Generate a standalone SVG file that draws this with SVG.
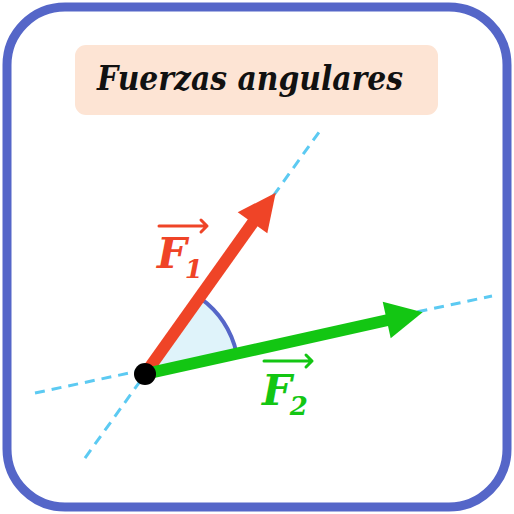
<svg xmlns="http://www.w3.org/2000/svg" width="514" height="514" viewBox="0 0 514 514">
<style>
.dash{stroke:#5ccaf2;stroke-width:3;stroke-dasharray:10 7;fill:none}
.lbl{font-family:"DejaVu Serif",serif;font-weight:bold;font-style:italic}
.vec{fill:none;stroke-width:3;stroke-linecap:round;stroke-linejoin:round}
</style>
<rect x="7" y="7" width="500" height="500" rx="58" fill="#fff" stroke="#5566c8" stroke-width="9"/>
<g id="title">
<rect x="75" y="45" width="363" height="70" rx="11" fill="#fde4d4"/>
<text x="250" y="90" text-anchor="middle" class="lbl" font-size="34" textLength="306" lengthAdjust="spacingAndGlyphs" fill="#111">Fuerzas angulares</text>
</g>
<g id="connectors">
<line class="dash" x1="85" y1="458" x2="322" y2="128"/>
<line class="dash" x1="35" y1="393" x2="492" y2="296"/>
</g>
<g id="angle">
<path d="M145 374 L200 297.8 A94 94 0 0 1 236.7 353.5 Z" fill="#dff3fa"/>
<path d="M200 297.8 A94 94 0 0 1 236.7 353.5" fill="none" stroke="#5566c8" stroke-width="4"/>
</g>
<g id="F1">
<line x1="145" y1="374" x2="254" y2="221" stroke="#ef4427" stroke-width="12"/>
<polygon points="275.7,192.7 237.7,212.3 267.3,233.3" fill="#ef4427"/>
<text x="157" y="268" class="lbl" font-size="42" fill="#ef4427">F<tspan font-size="26" dx="-2" dy="10">1</tspan></text>
<path class="vec" stroke="#ef4427" d="M159 226 H207 M201 220 L207 226 L201 232"/>
</g>
<g id="F2">
<line x1="145" y1="374" x2="388" y2="320" stroke="#13c613" stroke-width="12"/>
<polygon points="422.7,312.3 382.7,301.7 390.7,338.3" fill="#13c613"/>
<text x="262" y="405" class="lbl" font-size="42" fill="#13c613">F<tspan font-size="26" dx="-2" dy="10">2</tspan></text>
<path class="vec" stroke="#13c613" d="M264 361 H312 M306 355 L312 361 L306 367"/>
</g>
<g id="origin">
<circle cx="145" cy="374" r="11" fill="#000"/>
</g>
</svg>
